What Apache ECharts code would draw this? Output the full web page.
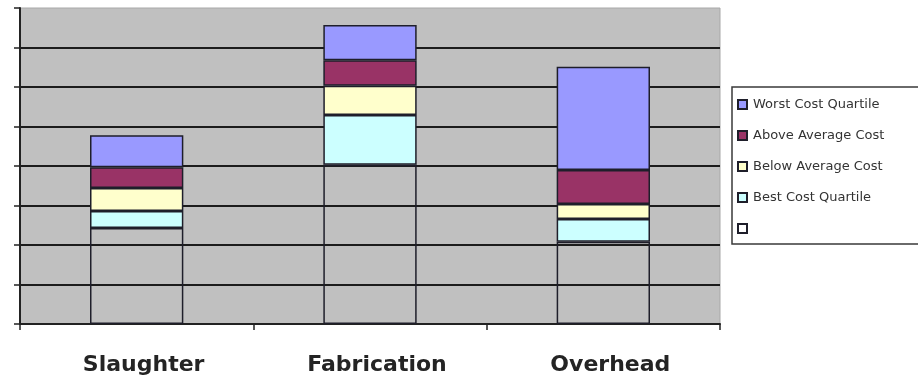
<!DOCTYPE html>
<html>
<head>
<meta charset="utf-8">
<script src="https://cdn.jsdelivr.net/npm/echarts@6/dist/echarts.min.js"></script>
<style>
  html, body { margin: 0; padding: 0; background: #fff; }
  #chart { width: 918px; height: 379px; }
</style>
</head>
<body>
<div id="chart"></div>
<script>
// Cost breakdown per processing stage, stacked from an unfilled base upward.
const categories = ['Slaughter', 'Fabrication', 'Overhead'];
const baseValues = [2.43, 4.03, 2.08];
const bestQuartile = [0.43, 1.26, 0.58];
const belowAverage = [0.58, 0.74, 0.38];
const aboveAverage = [0.53, 0.65, 0.86];
const worstQuartile = [0.81, 0.89, 2.61];

const seriesNames = {
  base: ' ',
  best: 'Best Cost Quartile',
  below: 'Below Average Cost',
  above: 'Above Average Cost',
  worst: 'Worst Cost Quartile'
};

const edge = '#1e1e2a';

function segment(name, data, fill) {
  return {
    name: name,
    type: 'bar',
    stack: 'cost',
    barWidth: '40%',
    data: data,
    itemStyle: { color: fill, borderColor: edge, borderWidth: 1.5 },
    emphasis: { disabled: true }
  };
}

const chart = echarts.init(document.getElementById('chart'));
chart.setOption({
  animation: false,
  grid: {
    left: 20, top: 8, width: 700, height: 316,
    show: true, backgroundColor: '#c0c0c0', borderColor: '#a8a8a8', borderWidth: 1
  },
  legend: {
    orient: 'vertical',
    left: 732, top: 87,
    padding: [11, 200, 9, 5],
    itemWidth: 9, itemHeight: 9, itemGap: 18,
    icon: 'rect',
    backgroundColor: '#ffffff',
    borderColor: '#3a3a3a', borderWidth: 1.5,
    textStyle: { fontFamily: 'DejaVu Sans', fontSize: 13, color: '#333', padding: [0, 0, 0, 1] },
    data: [seriesNames.worst, seriesNames.above, seriesNames.below, seriesNames.best, seriesNames.base],
    selectedMode: false
  },
  xAxis: {
    type: 'category',
    data: categories,
    axisLine: { lineStyle: { color: '#222', width: 2 } },
    axisTick: { show: true, length: 6, lineStyle: { color: '#222', width: 1.5 } },
    axisLabel: {
      margin: 30,
      padding: [0, 0, 0, 14],
      fontFamily: 'DejaVu Sans', fontWeight: 'bold', fontSize: 22, color: '#242424'
    }
  },
  yAxis: {
    type: 'value',
    min: 0, max: 8, interval: 1,
    axisLine: { show: true, lineStyle: { color: '#222', width: 2 } },
    axisTick: { show: true, length: 6, lineStyle: { color: '#222', width: 1.5 } },
    axisLabel: { show: false },
    splitLine: { showMaxLine: false, lineStyle: { color: '#1c1c1c', width: 2 } }
  },
  series: [
    segment(seriesNames.base, baseValues, 'rgba(0,0,0,0)'),
    segment(seriesNames.best, bestQuartile, '#ccffff'),
    segment(seriesNames.below, belowAverage, '#ffffcc'),
    segment(seriesNames.above, aboveAverage, '#993366'),
    segment(seriesNames.worst, worstQuartile, '#9999ff')
  ]
});
</script>
</body>
</html>
